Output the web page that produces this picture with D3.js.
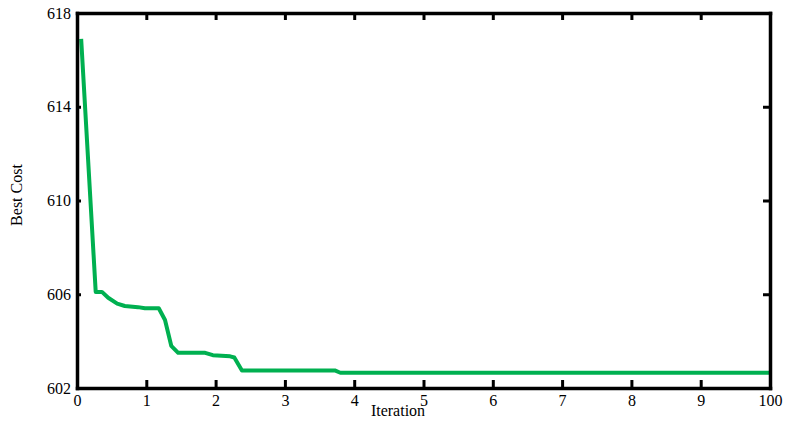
<!DOCTYPE html>
<html>
<head>
<meta charset="utf-8">
<script src="https://cdn.jsdelivr.net/npm/d3@7"></script>
<style>
  html, body { margin: 0; padding: 0; background: #fff; }
  svg { display: block; }
  svg text { font-family: "Liberation Serif", "Times New Roman", serif !important; fill: #000; }
</style>
</head>
<body>
<svg id="chart" width="789" height="422"></svg>
<script>
// Data
const iterations = [0.6, 2.7, 3.6, 4.5, 5.8, 6.9, 8.8, 9.8, 11.8, 12.7, 13.6, 14.6, 18.5, 19.6, 22.1, 22.7, 23.8, 37.2, 38.0, 100];
const bestCost   = [616.9, 606.1, 606.1, 605.85, 605.6, 605.5, 605.45, 605.4, 605.4, 604.9, 603.8, 603.5, 603.5, 603.4, 603.35, 603.3, 602.75, 602.75, 602.65, 602.65];
const xTickValues = [0, 10, 20, 30, 40, 50, 60, 70, 80, 90, 100];
const xTickLabels = ["0", "1", "2", "3", "4", "5", "6", "7", "8", "9", "100"];
const yTickValues = [602, 606, 610, 614, 618];
const yTickLabels = ["602", "606", "610", "614", "618"];
const xLabel = "Iteration";
const yLabel = "Best Cost";

const svg = d3.select("#chart");
const mLeft = 77, mRight = 770, mTop = 13, mBottom = 388;

const x = d3.scaleLinear().domain([0, 100]).range([mLeft, mRight]);
const y = d3.scaleLinear().domain([602, 618]).range([mBottom, mTop]);

const data = iterations.map((d, i) => ({ x: d, y: bestCost[i] }));

// line
svg.append("path")
  .datum(data)
  .attr("fill", "none")
  .attr("stroke", "#00b050")
  .attr("stroke-width", 4)
  .attr("stroke-linejoin", "round")
  .attr("d", d3.line().x(d => x(d.x)).y(d => y(d.y)));

// Axes
const fmtX = (d, i) => xTickLabels[i];
const fmtY = (d, i) => yTickLabels[i];

const bottomAxis = svg.append("g").attr("transform", `translate(0,${mBottom})`)
  .call(d3.axisBottom(x).tickValues(xTickValues).tickFormat(fmtX).tickSizeInner(-8).tickSizeOuter(0).tickPadding(7));
const topAxis = svg.append("g").attr("transform", `translate(0,${mTop})`)
  .call(d3.axisTop(x).tickValues(xTickValues).tickFormat("").tickSizeInner(-7).tickSizeOuter(0));
const leftAxis = svg.append("g").attr("transform", `translate(${mLeft},0)`)
  .call(d3.axisLeft(y).tickValues(yTickValues).tickFormat(fmtY).tickSizeInner(-4).tickSizeOuter(0).tickPadding(6));
const rightAxis = svg.append("g").attr("transform", `translate(${mRight},0)`)
  .call(d3.axisRight(y).tickValues(yTickValues).tickFormat("").tickSizeInner(-7).tickSizeOuter(0));

[bottomAxis, topAxis, leftAxis, rightAxis].forEach(g => {
  g.attr("font-family", null).attr("font-size", null);
  g.select(".domain").attr("stroke", "#000").attr("stroke-width", 3.5).attr("stroke-linecap", "square");
  g.selectAll(".tick line").attr("stroke", "#000").attr("stroke-width", 3);
  g.selectAll(".tick text").style("font-size", "16px").attr("fill", "#000");
});

// Axis labels
svg.append("text")
  .attr("x", 398).attr("y", 416)
  .attr("text-anchor", "middle")
  .style("font-size", "16px")
  .text(xLabel);

svg.append("text")
  .attr("transform", `translate(22,195) rotate(-90)`)
  .attr("text-anchor", "middle")
  .style("font-size", "16px")
  .text(yLabel);
</script>
</body>
</html>
